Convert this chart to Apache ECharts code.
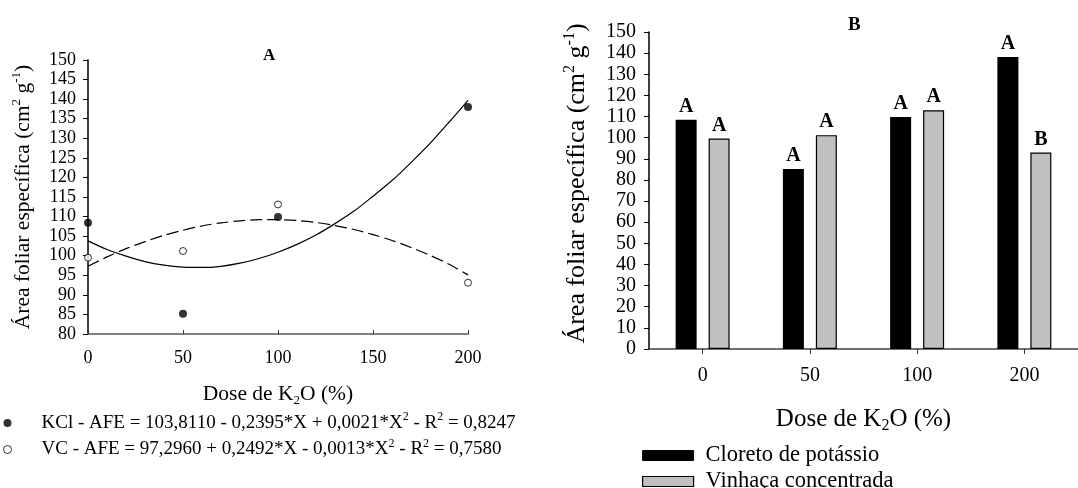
<!DOCTYPE html>
<html>
<head>
<meta charset="utf-8">
<script src="https://cdn.jsdelivr.net/npm/echarts@6/dist/echarts.min.js"></script>
<style>
html,body{margin:0;padding:0;background:#fff;}
#c{width:1078px;height:488px;}
</style>
</head>
<body>
<div id="c"></div>
<script>
// ---- Data ----
// Panel A: observed points
const dosesA = [0, 50, 100, 200];
const kclPointsA = [108.4, 85.2, 109.9, 138.0];
const vcPointsA = [99.5, 101.2, 113.1, 93.1];
// Panel A: fitted curves
const curveDoses = [0, 10, 20, 30, 40, 50, 60, 70, 80, 90, 100, 110, 120, 130, 140, 150, 160, 170, 180, 190, 200];
const kclCurve = [103.8, 101.6, 99.9, 98.5, 97.6, 97.1, 97.0, 97.3, 98.1, 99.3, 100.9, 102.9, 105.3, 108.2, 111.4, 115.2, 119.2, 123.8, 128.7, 134.1, 139.7];
const vcCurve = [97.3, 99.7, 101.8, 103.6, 105.2, 106.5, 107.6, 108.4, 108.9, 109.2, 109.2, 109.0, 108.5, 107.7, 106.7, 105.4, 103.9, 102.1, 100.1, 97.8, 95.1];
// Panel B: bars
const dosesB = ['0', '50', '100', '200'];
const kclBars = [108.5, 85.2, 109.8, 138.2];
const vcBars = [99.6, 101.2, 113.0, 93.0];
const kclLetters = ['A', 'A', 'A', 'A'];
const vcLetters = ['A', 'A', 'A', 'B'];
// Series names / texts
const seriesNamesA = ['KCl', 'VC'];
const equationsA = [
  '{g|}{t|KCl - AFE = 103,8110 - 0,2395*X + 0,0021*X}{s|2}{t| - R}{s|2}{t| = 0,8247}',
  '{g|}{t|VC - AFE = 97,2960 + 0,2492*X - 0,0013*X}{s|2}{t| - R}{s|2}{t| = 0,7580}'
];
const seriesNamesB = ['Cloreto de potássio', 'Vinhaça concentrada'];

const serif = "'Liberation Serif', 'Times New Roman', serif";

function richSet(fs, L, spacer) {
  return {
    t: { fontSize: fs, lineHeight: L, fontFamily: serif, color: '#000' },
    s: { fontSize: Math.round(fs * 0.62), lineHeight: L - 0.68 * fs + 6, verticalAlign: 'top', fontFamily: serif, color: '#000' },
    b: { fontSize: Math.round(fs * 0.62), lineHeight: Math.max(4, L - 0.64 * fs - 2), verticalAlign: 'bottom', fontFamily: serif, color: '#000' },
    g: { width: spacer || 0, lineHeight: L }
  };
}

const chart = echarts.init(document.getElementById('c'), null, { renderer: 'canvas' });

const option = {
  animation: false,
  backgroundColor: '#fff',
  title: [
    { text: 'A', left: 258, top: 42, textStyle: { fontFamily: serif, fontWeight: 'bold', fontSize: 17, color: '#000' } },
    { text: 'B', left: 843, top: 11, textStyle: { fontFamily: serif, fontWeight: 'bold', fontSize: 19, color: '#000' } }
  ],
  grid: [
    { left: 88, top: 60, width: 380, height: 274 },
    { left: 649, top: 32, width: 440, height: 317 }
  ],
  legend: [
    {
      orient: 'vertical', left: 3, top: 411, height: 70, padding: 0, itemGap: 5, itemWidth: 8, itemHeight: 8,
      selectedMode: false, icon: 'circle',
      data: [
        { name: seriesNamesA[0], itemStyle: { color: '#000', borderWidth: 0 } },
        { name: seriesNamesA[1], itemStyle: { color: '#fff', borderColor: '#000', borderWidth: 1 } }
      ],
      formatter: function (n) { return equationsA[seriesNamesA.indexOf(n)]; },
      textStyle: { rich: richSet(19, 24, 25) }
    },
    {
      orient: 'vertical', left: 642, top: 444, height: 70, padding: 0, itemGap: 3, itemWidth: 51, itemHeight: 10,
      selectedMode: false, icon: 'rect',
      data: [
        { name: seriesNamesB[0], itemStyle: { color: '#000', borderColor: '#000', borderWidth: 1 } },
        { name: seriesNamesB[1], itemStyle: { color: '#c0c0c0', borderColor: '#000', borderWidth: 1.2 } }
      ],
      formatter: function (n) { return '{g|}{t|' + n + '}'; },
      textStyle: { rich: richSet(22.5, 26, 7) }
    }
  ],
  xAxis: [
    {
      gridIndex: 0, type: 'value', min: 0, max: 200, interval: 50,
      axisLine: { show: true, lineStyle: { color: '#808080', width: 2 } },
      axisTick: { show: true, inside: true, length: 4, lineStyle: { color: '#333', width: 1 } },
      axisLabel: { fontFamily: serif, fontSize: 18, color: '#000', margin: 15 },
      splitLine: { show: false },
      name: '{t|Dose de K}{b|2}{t|O (%)}', nameLocation: 'middle', nameGap: 47,
      nameTextStyle: { rich: richSet(21.5, 26) }
    },
    {
      gridIndex: 1, type: 'category', data: dosesB,
      axisLine: { show: true, lineStyle: { color: '#404040', width: 1.5 } },
      axisTick: { show: true, alignWithLabel: true, length: 5, lineStyle: { color: '#333', width: 1 } },
      axisLabel: { fontFamily: serif, fontSize: 20, color: '#000', margin: 17 },
      name: '{t|Dose de K}{b|2}{t|O (%)}', nameLocation: 'middle', nameGap: 55,
      nameTextStyle: { rich: richSet(25, 30) }
    }
  ],
  yAxis: [
    {
      gridIndex: 0, type: 'value', min: 80, max: 150, interval: 5,
      axisLine: { show: true, lineStyle: { color: '#000', width: 1.5 } },
      axisTick: { show: true, length: 5, lineStyle: { color: '#000', width: 1 } },
      axisLabel: { fontFamily: serif, fontSize: 18, color: '#000', margin: 12 },
      splitLine: { show: false },
      name: '{t|Área foliar específica (cm}{s|2}{t| g}{s|-1}{t|)}', nameLocation: 'middle', nameRotate: 90, nameGap: 52,
      nameTextStyle: { rich: richSet(21.5, 26) }
    },
    {
      gridIndex: 1, type: 'value', min: 0, max: 150, interval: 10,
      axisLine: { show: true, lineStyle: { color: '#000', width: 1.5 } },
      axisTick: { show: true, length: 5, lineStyle: { color: '#000', width: 1 } },
      axisLabel: { fontFamily: serif, fontSize: 20, color: '#000', margin: 13 },
      splitLine: { show: false },
      name: '{t|Área foliar específica (cm}{s|2}{t| g}{s|-1}{t|)}', nameLocation: 'middle', nameRotate: 90, nameGap: 56,
      nameTextStyle: { rich: richSet(26, 31), padding: [0, 0, 0, 14] }
    }
  ],
  series: [
    {
      name: 'KCl ajuste', type: 'line', xAxisIndex: 0, yAxisIndex: 0, smooth: 0.3, symbol: 'none',
      data: curveDoses.map((d, i) => [d, kclCurve[i]]),
      lineStyle: { color: '#000', width: 1.2 }, z: 2, clip: false
    },
    {
      name: 'VC ajuste', type: 'line', xAxisIndex: 0, yAxisIndex: 0, smooth: 0.3, symbol: 'none',
      data: curveDoses.map((d, i) => [d, vcCurve[i]]),
      lineStyle: { color: '#000', width: 1.2, type: [12, 5] }, z: 2, clip: false
    },
    {
      name: seriesNamesA[0], type: 'scatter', xAxisIndex: 0, yAxisIndex: 0, symbol: 'circle', symbolSize: 8,
      data: dosesA.map((d, i) => [d, kclPointsA[i]]),
      itemStyle: { color: '#000' }, z: 4, clip: false
    },
    {
      name: seriesNamesA[1], type: 'scatter', xAxisIndex: 0, yAxisIndex: 0, symbol: 'circle', symbolSize: 7,
      data: dosesA.map((d, i) => [d, vcPointsA[i]]),
      itemStyle: { color: '#fff', borderColor: '#000', borderWidth: 1 }, z: 4, clip: false
    },
    {
      name: seriesNamesB[0], type: 'bar', xAxisIndex: 1, yAxisIndex: 1, barWidth: 21, barGap: '57%',
      data: kclBars,
      itemStyle: { color: '#000' },
      label: { show: true, position: 'top', distance: 3, formatter: p => kclLetters[p.dataIndex],
        fontFamily: serif, fontWeight: 'bold', fontSize: 20, color: '#000' }
    },
    {
      name: seriesNamesB[1], type: 'bar', xAxisIndex: 1, yAxisIndex: 1, barWidth: 21, barGap: '57%',
      data: vcBars,
      itemStyle: { color: '#c0c0c0', borderColor: '#000', borderWidth: 1.2 },
      label: { show: true, position: 'top', distance: 3, formatter: p => vcLetters[p.dataIndex],
        fontFamily: serif, fontWeight: 'bold', fontSize: 20, color: '#000' }
    }
  ]
};
chart.setOption(option);
</script>
</body>
</html>
